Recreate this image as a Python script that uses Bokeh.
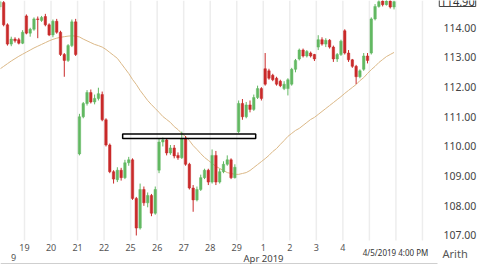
from bokeh.plotting import figure
from bokeh.models import Range1d, Label, ColumnDataSource
from bokeh.core.properties import value
from bokeh.embed import file_html
from bokeh.resources import INLINE

# ---- data (hourly bars, 7 per session) ----
day_labels = ["19", "20", "21", "22", "25", "26", "27", "28", "29", "1", "2", "3", "4"]
price_ticks = [107, 108, 109, 110, 111, 112, 113, 114]

opens = [114.70, 114.85, 114.10, 113.45, 113.62, 113.60, 113.48,
         114.40, 113.82, 113.95, 114.30, 114.25, 114.38, 114.10,
         113.76, 114.22, 113.85, 113.10, 112.90, 113.40, 114.20,
         109.75, 111.00, 111.45, 111.82, 111.50, 111.62, 111.75,
         110.90, 110.05, 109.15, 108.88, 109.20, 108.95, 109.45,
         109.55, 108.25, 107.25, 108.55, 108.10, 108.35, 107.75,
         109.20, 110.15, 110.22, 109.78, 109.95, 109.70, 109.62,
         110.25, 109.40, 108.60, 108.20, 108.55, 108.95, 109.20,
         108.80, 109.70, 108.80, 109.15, 109.40, 109.55, 108.95,
         110.50, 111.45, 111.00, 111.40, 111.25, 111.65, 111.95,
         112.62, 112.55, 112.40, 112.30, 112.20, 111.95, 111.95,
         112.10, 112.60, 112.95, 113.25, 113.05, 113.15, 113.10,
         113.35, 113.60, 113.45, 113.58, 113.35, 112.95, 113.10,
         113.90, 113.15, 112.92, 112.70, 112.35, 112.60, 113.05,
         113.15, 114.30, 114.72, 114.90, 114.78, 114.90, 114.70]
highs = [114.92, 114.90, 114.15, 113.70, 113.68, 113.66, 113.92,
         114.45, 114.00, 114.35, 114.38, 114.40, 114.47, 114.15,
         114.28, 114.30, 113.90, 113.15, 113.45, 114.28, 114.30,
         111.10, 111.50, 111.90, 111.92, 111.75, 111.98, 111.85,
         110.95, 110.10, 109.20, 109.30, 109.28, 109.55, 109.65,
         109.60, 108.30, 108.75, 108.65, 108.45, 108.40, 108.65,
         110.25, 110.30, 110.28, 110.05, 110.05, 109.80, 110.50,
         110.35, 109.45, 108.70, 108.65, 109.05, 109.25, 109.25,
         109.90, 109.85, 109.25, 109.50, 109.70, 109.60, 109.40,
         111.55, 111.60, 111.50, 111.55, 111.75, 112.05, 112.00,
         113.15, 112.62, 112.45, 112.35, 112.25, 112.20, 112.30,
         112.65, 112.95, 113.30, 113.30, 113.25, 113.20, 113.12,
         113.75, 113.68, 113.65, 113.62, 113.40, 113.15, 113.60,
         113.95, 113.25, 112.95, 112.75, 112.60, 113.15, 113.15,
         114.35, 114.80, 114.95, 114.98, 114.95, 114.96, 114.92]
lows = [114.60, 114.05, 113.40, 113.38, 113.50, 113.44, 113.45,
        113.78, 113.70, 113.90, 113.65, 114.20, 114.05, 113.72,
        113.68, 113.80, 113.05, 112.35, 112.85, 113.35, 113.05,
        109.70, 110.95, 111.38, 111.45, 111.42, 111.55, 110.85,
        110.00, 109.10, 108.75, 108.80, 108.85, 108.90, 109.35,
        108.20, 107.00, 107.20, 108.00, 107.95, 107.65, 107.70,
        109.10, 110.00, 109.70, 109.72, 109.60, 109.55, 109.58,
        109.35, 108.55, 107.80, 108.15, 108.50, 108.90, 108.70,
        108.75, 108.70, 108.75, 109.10, 109.35, 108.90, 108.92,
        110.45, 110.90, 110.95, 111.15, 111.20, 111.60, 111.55,
        112.05, 112.25, 112.20, 112.05, 112.00, 111.90, 111.72,
        112.05, 112.50, 112.90, 113.00, 113.00, 113.00, 112.88,
        113.25, 113.40, 113.35, 113.30, 112.85, 112.85, 113.05,
        113.10, 112.85, 112.65, 112.10, 112.30, 112.55, 112.80,
        113.10, 114.25, 114.68, 114.72, 114.75, 114.65, 114.62]
closes = [114.88, 114.10, 113.45, 113.62, 113.56, 113.48, 113.85,
          113.82, 113.95, 114.30, 114.28, 114.35, 114.10, 113.76,
          114.22, 113.85, 113.10, 112.90, 113.40, 114.20, 113.10,
          111.00, 111.45, 111.82, 111.50, 111.62, 111.78, 110.90,
          110.05, 109.15, 108.90, 109.20, 108.95, 109.45, 109.55,
          108.25, 107.25, 108.55, 108.10, 108.35, 107.75, 108.55,
          110.15, 110.22, 109.78, 109.95, 109.68, 109.62, 110.25,
          109.40, 108.60, 108.20, 108.55, 108.95, 109.20, 108.80,
          109.70, 108.80, 109.15, 109.40, 109.55, 108.95, 109.30,
          111.45, 111.00, 111.40, 111.25, 111.65, 111.95, 111.62,
          112.10, 112.30, 112.25, 112.10, 112.05, 112.10, 112.25,
          112.60, 112.90, 113.25, 113.05, 113.20, 113.05, 112.95,
          113.60, 113.45, 113.58, 113.35, 112.95, 113.10, 113.55,
          113.15, 112.92, 112.70, 112.35, 112.55, 113.05, 112.90,
          114.30, 114.72, 114.88, 114.78, 114.90, 114.70, 114.88]
moving_avg = [112.61, 112.70, 112.79, 112.88, 112.96, 113.04, 113.11,
              113.18, 113.25, 113.32, 113.38, 113.44, 113.50, 113.56,
              113.61, 113.65, 113.68, 113.70, 113.72, 113.73, 113.72,
              113.69, 113.62, 113.56, 113.50, 113.44, 113.40, 113.35,
              113.27, 113.17, 113.07, 112.97, 112.80, 112.63, 112.46,
              112.26, 112.09, 111.89, 111.72, 111.55, 111.41, 111.28,
              111.15, 111.01, 110.91, 110.81, 110.67, 110.57, 110.44,
              110.34, 110.20, 110.03, 109.90, 109.76, 109.63, 109.53,
              109.43, 109.33, 109.26, 109.19, 109.12, 109.09, 109.06,
              109.06, 109.09, 109.12, 109.19, 109.29, 109.39, 109.49,
              109.59, 109.70, 109.83, 109.93, 110.07, 110.20, 110.34,
              110.44, 110.54, 110.61, 110.71, 110.81, 110.91, 110.98,
              111.08, 111.18, 111.28, 111.38, 111.48, 111.58, 111.68,
              111.79, 111.89, 111.99, 112.09, 112.22, 112.32, 112.46,
              112.59, 112.70, 112.83, 112.93, 113.03, 113.10, 113.17]
last_price = "114.90"
# drawn rectangle (bar-index / price coordinates)
rect_left, rect_right, rect_top, rect_bottom = 32.9, 68.0, 110.42, 110.27

# ---- layout helpers (pixel -> data) ----
BAR_PX = 3.79
PX_PER_UNIT = 29.67
TOP_PRICE = 114.92
CHART_RIGHT_PX = 437
CHART_BOTTOM_PX = 240


def X(px):
    return 7 + (px - 24) / BAR_PX


def Y(py):
    return TOP_PRICE - py / PX_PER_UNIT


GREEN = "#62b862"
RED = "#c92a2a"
FONT = "Noto Sans"

n = len(opens)
xs = [i + 0.5 for i in range(n)]
colors = [GREEN if c >= o else RED for o, c in zip(opens, closes)]
src = ColumnDataSource(dict(
    x=xs, h=highs, l=lows,
    top=[max(o, c) for o, c in zip(opens, closes)],
    bot=[min(o, c) for o, c in zip(opens, closes)],
    color=colors))

p = figure(width=480, height=270, output_backend="svg", toolbar_location=None,
           x_range=Range1d(X(0), X(480)), y_range=Range1d(Y(270), Y(0)),
           x_axis_location=None, y_axis_location=None,
           min_border=0, min_border_left=0, min_border_right=0,
           min_border_top=0, min_border_bottom=0)
p.outline_line_color = None
p.background_fill_color = "white"
p.border_fill_color = "white"
p.grid.visible = False

# vertical session grid (stops at the bottom of the price pane)
grid_x = [7 * k for k in range(1, 17)]
p.segment(x0=grid_x, y0=[Y(CHART_BOTTOM_PX)] * len(grid_x), x1=grid_x, y1=[Y(0)] * len(grid_x),
          line_color="#ededed", line_width=1.5)

# separator under the date scale
p.line([X(0), X(CHART_RIGHT_PX)], [Y(263)] * 2, line_color="#cfcfcf", line_width=1)

# moving average
p.line(xs, moving_avg, line_color="#dbb887", line_width=1)

# candles
p.segment(x0="x", y0="h", x1="x", y1="l", line_color="color", line_width=1, source=src)
p.vbar(x="x", width=0.65, top="top", bottom="bot", fill_color="color", line_color="color",
       line_width=0.5, source=src)

# drawn rectangle
p.quad(left=[rect_left], right=[rect_right], top=[rect_top], bottom=[rect_bottom],
       fill_color=None, line_color="black", line_width=1.5)

# date scale labels
day_ticks = [7 * (k + 1) for k in range(len(day_labels))]
p.text(x=day_ticks, y=[Y(247)] * len(day_ticks), text=day_labels,
       text_font=value(FONT), text_font_size="9px", text_color="#555555",
       text_align="center", text_baseline="middle")

# price scale labels
p.text(x=[X(443)] * len(price_ticks), y=price_ticks, text=[f"{v:.2f}" for v in price_ticks],
       text_font=value(FONT), text_font_size="10.5px", text_color="#444444",
       text_align="left", text_baseline="middle")


def add_label(text, px, py, size, color, align="center", **kw):
    p.add_layout(Label(x=X(px), y=Y(py), text=text, text_align=align, text_baseline="middle",
                       text_font=FONT, text_font_size=size, text_color=color, **kw))


add_label("Apr 2019", 263, 258, "9.5px", "#444444")
add_label("4/5/2019 4:00 PM", 395, 252, "8px", "#333333")
add_label("Arith", 442, 253, "11px", "#555555", align="left")
add_label("9", 13, 257, "9px", "#555555")
add_label(last_price, 457, 1, "11px", "#333333", border_line_color="#444444",
          background_fill_color="white", padding=1)

open("out.html", "w").write(file_html(p, INLINE))
